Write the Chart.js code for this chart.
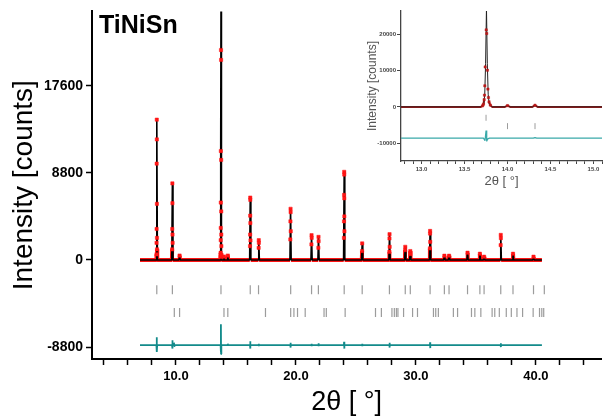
<!DOCTYPE html>
<html>
<head>
<meta charset="utf-8">
<script src="https://cdn.jsdelivr.net/npm/chart.js@4.4.1/dist/chart.umd.min.js"></script>
<style>
body { margin: 0; background: #fff; }
#wrap { position: relative; width: 607px; height: 419px; }
#main { position: absolute; left: 0; top: 0; }
#inset { position: absolute; left: 340px; top: 0; }
</style>
</head>
<body>
<div id="wrap">
  <canvas id="main" width="607" height="419"></canvas>
  <canvas id="inset" width="267" height="200"></canvas>
</div>
<script>
// calculated profile [2theta, counts]
const calcPts = [
  [7.0,0],
  [8.35,0],[8.40,14300],[8.45,0],
  [9.65,0],[9.70,7800],[9.75,0],
  [10.25,0],[10.30,500],[10.35,0],
  [13.69,0],[13.71,350],[13.725,1000],[13.735,3500],[13.745,12000],[13.755,27500],[13.765,12000],[13.775,3500],[13.785,1000],[13.80,350],[13.82,0],
  [13.97,0],[14.00,300],[14.03,0],
  [14.29,0],[14.32,400],[14.35,0],
  [16.14,0],[16.19,6300],[16.24,0],
  [16.85,0],[16.90,2050],[16.95,0],
  [19.50,0],[19.55,5250],[19.60,0],
  [21.25,0],[21.30,2550],[21.35,0],
  [21.83,0],[21.88,2350],[21.93,0],
  [23.97,0],[24.02,8950],[24.07,0],
  [25.47,0],[25.52,1700],[25.57,0],
  [27.75,0],[27.80,2650],[27.85,0],
  [29.06,0],[29.11,1380],[29.16,0],
  [29.48,0],[29.53,950],[29.58,0],
  [31.13,0],[31.18,2950],[31.23,0],
  [32.32,0],[32.37,450],[32.42,0],
  [32.71,0],[32.76,450],[32.81,0],
  [34.25,0],[34.30,750],[34.35,0],
  [35.28,0],[35.33,650],[35.38,0],
  [35.63,0],[35.68,350],[35.73,0],
  [37.02,0],[37.07,2550],[37.12,0],
  [38.04,0],[38.09,650],[38.14,0],
  [39.75,0],[39.80,350],[39.85,0],
  [40.5,0]
];

// observed points
const obsPts = [
  [7.0,0],
  [8.36,0],[8.375,570],[8.38,1730],[8.385,3130],[8.39,9730],[8.40,14170],[8.405,12170],[8.41,5670],[8.415,2230],[8.42,1070],[8.44,0],
  [9.66,0],[9.68,1070],[9.69,3130],[9.70,7730],[9.705,5730],[9.71,2570],[9.72,1730],[9.74,0],
  [10.27,0],[10.30,450],[10.33,0],
  [13.69,0],[13.71,300],[13.72,730],[13.728,2000],[13.732,3230],[13.736,5800],[13.74,11000],[13.752,21200],[13.758,20200],[13.766,10100],[13.772,4900],[13.778,2570],[13.785,1400],[13.80,500],[13.82,0],
  [13.97,0],[14.00,350],[14.03,0],
  [14.29,0],[14.32,450],[14.35,0],
  [16.15,0],[16.17,1400],[16.18,2570],[16.185,4470],[16.19,6300],[16.195,6070],[16.20,3730],[16.21,1970],[16.23,0],
  [16.87,0],[16.89,1230],[16.90,2000],[16.91,1730],[16.93,0],
  [19.51,0],[19.53,2070],[19.54,3900],[19.55,5170],[19.555,4830],[19.565,2900],[19.59,0],
  [21.27,0],[21.29,1570],[21.30,2500],[21.31,2230],[21.33,0],
  [21.85,0],[21.87,1230],[21.88,2330],[21.89,1900],[21.91,0],
  [23.98,0],[24.00,2230],[24.005,3900],[24.01,6570],[24.02,8900],[24.025,8630],[24.03,6230],[24.035,4400],[24.04,2900],[24.06,0],
  [25.49,0],[25.51,900],[25.52,1670],[25.55,0],
  [27.77,0],[27.79,830],[27.795,2170],[27.80,2600],[27.81,1330],[27.83,0],
  [29.08,0],[29.10,1000],[29.11,1330],[29.14,0],
  [29.50,0],[29.53,900],[29.54,600],[29.56,0],
  [31.15,0],[31.165,1170],[31.175,2670],[31.18,2930],[31.19,1830],[31.21,0],
  [32.34,0],[32.37,430],[32.40,0],
  [32.73,0],[32.76,430],[32.79,0],
  [34.27,0],[34.30,730],[34.33,0],
  [35.30,0],[35.33,630],[35.36,0],
  [35.65,0],[35.68,330],[35.71,0],
  [37.04,0],[37.06,1500],[37.07,2530],[37.08,2200],[37.10,0],
  [38.06,0],[38.09,630],[38.12,0],
  [39.77,0],[39.80,330],[39.83,0],
  [40.5,0]
];

// obs - calc, shifted down
const diffPts = [
  [7.0,-8600],
  [8.37,-8600],[8.39,-7800],[8.41,-9300],[8.43,-8600],
  [9.67,-8600],[9.69,-8100],[9.71,-8950],[9.73,-8600],
  [9.80,-8600],[9.83,-8350],[9.86,-8700],[9.89,-8600],
  [13.72,-8600],[13.738,-9300],[13.75,-6500],[13.758,-9500],[13.77,-8800],[13.79,-8600],
  [14.30,-8600],[14.32,-8450],[14.34,-8600],
  [16.17,-8600],[16.18,-8200],[16.20,-8950],[16.21,-8600],
  [16.89,-8600],[16.90,-8450],[16.91,-8700],[16.92,-8600],
  [19.53,-8600],[19.54,-8350],[19.56,-8850],[19.57,-8600],
  [21.29,-8600],[21.30,-8450],[21.31,-8700],[21.32,-8600],
  [21.87,-8600],[21.88,-8400],[21.89,-8700],[21.90,-8600],
  [24.00,-8600],[24.01,-8250],[24.03,-8950],[24.04,-8600],
  [25.51,-8600],[25.52,-8450],[25.53,-8700],[25.54,-8600],
  [27.79,-8600],[27.80,-8350],[27.81,-8850],[27.82,-8600],
  [31.17,-8600],[31.18,-8300],[31.19,-8900],[31.20,-8600],
  [37.06,-8600],[37.07,-8400],[37.08,-8800],[37.09,-8600],
  [40.5,-8600]
];

// reflection markers
const phase1Pos = [8.40, 9.70, 13.75, 16.19, 16.88, 19.56, 21.30, 21.87, 24.02, 25.52, 27.79, 29.11, 29.53, 31.18, 32.37, 32.76, 34.30, 35.33, 35.68, 37.07, 38.09, 39.80, 40.70];
const phase2Pos = [9.86, 10.30, 14.00, 14.32, 17.46, 19.56, 19.83, 20.13, 20.77, 22.34, 22.53, 24.10, 26.63, 27.12, 28.00, 28.20, 28.37, 28.50, 28.97, 29.72, 30.13, 31.46, 31.65, 31.87, 33.12, 33.47, 34.63, 34.91, 35.41, 36.35, 36.57, 36.95, 37.53, 37.95, 38.42, 38.89, 39.77, 40.30, 40.49, 40.65];
const phase1Level = -3000;
const phase2Level = -5300;

// ticks
const mainXTicks = [4, 6, 8, 10, 12, 14, 16, 18, 20, 22, 24, 26, 28, 30, 32, 34, 36, 38, 40, 42, 44];
const mainYTicks = [-8800, 0, 8800, 17600];
const insetXTicks = [12.8, 12.9, 13.0, 13.1, 13.2, 13.3, 13.4, 13.5, 13.6, 13.7, 13.8, 13.9, 14.0, 14.1, 14.2, 14.3, 14.4, 14.5, 14.6, 14.7, 14.8, 14.9, 15.0, 15.1];
const insetYTicks = [-10000, 0, 10000, 20000];

const fam = "'Liberation Sans', Arial, sans-serif";
Chart.defaults.font.family = fam;
Chart.defaults.animation = false;

function buildDatasets(o) {
  return [
    { // observed squares (top)
      data: obsPts, showLine: false, pointStyle: 'rect',
      pointRadius: c => (c.parsed && c.parsed.y > 250 ? o.sq : 0),
      pointBackgroundColor: o.obsCol, pointBorderColor: o.obsCol, pointBorderWidth: 0.5
    },
    { // calculated
      data: calcPts, showLine: true, borderColor: o.calcCol, borderWidth: o.calcW, pointRadius: 0,
      borderJoinStyle: 'bevel'
    },
    { // observed line
      data: obsPts, showLine: true, borderColor: o.obsCol, borderWidth: o.obsW, pointRadius: 0,
      borderJoinStyle: 'bevel',
      segment: { borderColor: c => (c.p0.parsed.y > o.cut || c.p1.parsed.y > o.cut) ? 'rgba(0,0,0,0)' : o.obsCol }
    },
    { // difference
      data: diffPts, showLine: true, borderColor: o.diffCol, borderWidth: o.diffW, pointRadius: 0,
      borderJoinStyle: 'bevel'
    },
    {
      data: phase1Pos.map(x => [x, phase1Level]), showLine: false, pointStyle: 'line', rotation: 90,
      pointRadius: o.tk, pointBorderColor: '#9c9c9c', pointBorderWidth: o.tkW
    },
    {
      data: phase2Pos.map(x => [x, phase2Level]), showLine: false, pointStyle: 'line', rotation: 90,
      pointRadius: o.tk, pointBorderColor: '#9c9c9c', pointBorderWidth: o.tkW
    }
  ];
}

const titlePlugin = {
  id: 'sampleName',
  afterDraw(chart) {
    const c = chart.ctx;
    c.save();
    c.font = 'bold 25px ' + fam;
    c.fillStyle = '#000';
    c.fillText('TiNiSn', 99, 33);
    c.restore();
  }
};

new Chart(document.getElementById('main'), {
  type: 'scatter',
  data: { datasets: buildDatasets({ sq: 2.3, obsCol: '#ff1414', obsW: 4, cut: 1200, calcCol: '#000', calcW: 1.6, diffCol: '#138b8b', diffW: 1.8, tk: 4.5, tkW: 1.2 }) },
  plugins: [titlePlugin],
  options: {
    responsive: false,
    events: [],
    layout: { padding: { top: 8, right: 4, left: 0, bottom: 0 } },
    plugins: { legend: { display: false }, tooltip: { enabled: false } },
    scales: {
      x: {
        type: 'linear', min: 3, max: 45.45,
        afterBuildTicks: s => { s.ticks = mainXTicks.map(v => ({ value: v })); },
        afterFit: s => { s.height = 60; },
        ticks: { autoSkip: false, maxRotation: 0, padding: 4, color: '#000', font: { size: 13, weight: 'bold' },
          callback: v => (v % 10 === 0 ? v.toFixed(1) : '') },
        grid: { drawOnChartArea: false, tickLength: 6, tickColor: '#000', tickWidth: 1.5 },
        border: { color: '#000', width: 2 },
        title: { display: true, text: '2θ [ °]', color: '#000', font: { size: 27 }, padding: { top: 0, bottom: 0 } }
      },
      y: {
        type: 'linear', min: -10000, max: 25100,
        afterBuildTicks: s => { s.ticks = mainYTicks.map(v => ({ value: v })); },
        afterFit: s => { s.width = 92; },
        ticks: { padding: 3, color: '#000', font: { size: 14, weight: 'bold' }, callback: v => String(v) },
        grid: { drawOnChartArea: false, tickLength: 6, tickColor: '#000', tickWidth: 1.5 },
        border: { color: '#000', width: 2 },
        title: { display: true, text: 'Intensity [counts]', color: '#000', font: { size: 28 }, padding: { top: 7, bottom: 0 } }
      }
    }
  }
});

new Chart(document.getElementById('inset'), {
  type: 'scatter',
  data: { datasets: buildDatasets({ sq: 1.6, obsCol: '#b81818', obsW: 2, cut: 2500, calcCol: '#222', calcW: 1, diffCol: '#3aa9a9', diffW: 1.2, tk: 3, tkW: 1 }) },
  options: {
    responsive: false,
    events: [],
    layout: { padding: { top: 11, right: 0, left: 0, bottom: 0 } },
    plugins: { legend: { display: false }, tooltip: { enabled: false } },
    scales: {
      x: {
        type: 'linear', min: 12.76, max: 15.1,
        afterBuildTicks: s => { s.ticks = insetXTicks.map(v => ({ value: v })); },
        afterFit: s => { s.height = 39; },
        ticks: { autoSkip: false, maxRotation: 0, padding: 2, color: '#444', font: { size: 6, weight: 'bold' },
          callback: v => (Math.abs(v * 2 - Math.round(v * 2)) < 1e-6 ? v.toFixed(1) : '') },
        grid: { drawOnChartArea: false, tickLength: 3, tickColor: '#444', tickWidth: 1 },
        border: { color: '#444', width: 1.3 },
        title: { display: true, text: '2θ [ °]', color: '#555', font: { size: 13 }, padding: { top: 0, bottom: 11 } }
      },
      y: {
        type: 'linear', min: -14900, max: 26400,
        afterBuildTicks: s => { s.ticks = insetYTicks.map(v => ({ value: v })); },
        afterFit: s => { s.width = 61; },
        ticks: { padding: 1, color: '#444', font: { size: 6, weight: 'bold' }, callback: v => String(v) },
        grid: { drawOnChartArea: false, tickLength: 4, tickColor: '#444', tickWidth: 1 },
        border: { color: '#444', width: 1.3 },
        title: { display: true, text: 'Intensity [counts]', color: '#555', font: { size: 12 }, padding: { top: 25, bottom: 0 } }
      }
    }
  }
});
</script>
</body>
</html>
